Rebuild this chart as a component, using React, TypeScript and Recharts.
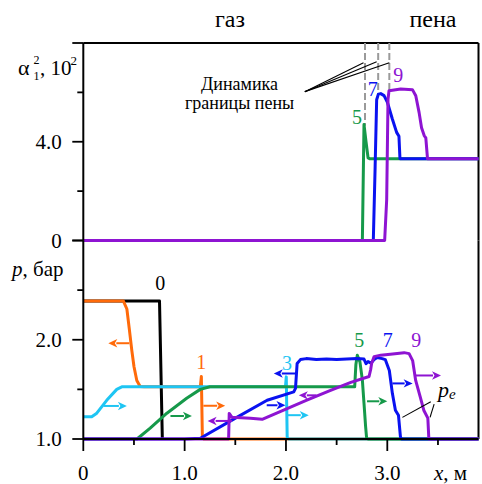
import { LineChart, Line, XAxis, YAxis, ReferenceLine, ReferenceDot } from 'recharts';

const SERIF = { fontFamily: "'Liberation Serif', serif" };

// axes
const X_DOMAIN: [number, number] = [0, 3.9];
const X_TICKS = [0, 0.5, 1, 1.5, 2, 2.5, 3, 3.5];
const X_MAJOR = [0, 1, 2, 3];
const X_LABELS: Record<number, string> = { 0: '0', 1: '1.0', 2: '2.0', 3: '3.0' };

const A_DOMAIN: [number, number] = [0, 8];
const A_TICKS = [0, 2, 4, 6, 8];
const A_MAJOR = [0, 4, 8];
const A_LABELS: Record<number, string> = { 0: '0', 4: '4.0' };

const P_DOMAIN: [number, number] = [1, 3];
const P_TICKS = [1, 1.5, 2, 2.5, 3];
const P_MAJOR = [1, 2, 3];
const P_LABELS: Record<number, string> = { 1: '1.0', 2: '2.0' };

// alpha_1^2 (x 10^2) vs x, м  — times 5, 7, 9
const alpha5 = [[0, 0], [2.754, 0], [2.77, 4.7], [2.79, 4.0], [2.81, 3.35], [2.83, 3.31], [3.9, 3.31]];
const alpha7 = [
  [0, 0], [2.862, 0], [2.88, 3.0], [2.895, 5.7], [2.912, 5.93], [2.935, 5.95], [2.968, 5.87],
  [3.0, 5.61], [3.049, 4.93], [3.092, 4.38], [3.115, 4.22], [3.125, 3.31], [3.9, 3.31],
];
const alpha9 = [
  [0, 0], [2.974, 0], [2.994, 1.66], [3.007, 5.72], [3.017, 6.07], [3.132, 6.14], [3.248, 6.11],
  [3.281, 5.86], [3.314, 5.18], [3.338, 4.57], [3.364, 4.25], [3.38, 4.16], [3.397, 3.31], [3.9, 3.31],
];

// p, бар vs x, м — times 0, 1, 3, 5, 7, 9
const p0 = [[0, 2.39], [0.752, 2.39], [0.78, 1.0]];
const p1 = [
  [0, 2.39], [0.396, 2.39], [0.43, 2.31], [0.455, 2.1], [0.479, 1.89], [0.5, 1.73], [0.528, 1.59],
  [0.561, 1.53], [0.6, 1.526], [1.155, 1.526], [1.165, 1.63], [1.175, 1.02], [1.19, 1.0], [3.9, 1.0],
];
const p3 = [
  [0, 1.224], [0.083, 1.224], [0.133, 1.26], [0.231, 1.39], [0.33, 1.5], [0.38, 1.526],
  [1.995, 1.526], [2.003, 1.626], [2.012, 1.02], [2.025, 1.0], [3.9, 1.0],
];
const p5 = [
  [0, 1.0], [0.53, 1.0], [0.66, 1.11], [0.825, 1.26], [1.02, 1.41], [1.154, 1.5], [1.25, 1.526],
  [2.678, 1.526], [2.69, 1.75], [2.704, 1.844], [2.73, 1.777], [2.754, 1.593], [2.77, 1.36],
  [2.786, 1.124], [2.796, 1.007], [2.81, 1.0], [3.9, 1.0],
];
const p7 = [
  [0, 1.0], [1.0, 1.0], [1.155, 1.007], [1.484, 1.2], [1.814, 1.39], [2.077, 1.475], [2.094, 1.51],
  [2.11, 1.76], [2.143, 1.8], [2.2, 1.81], [2.3, 1.8], [2.4, 1.806], [2.5, 1.8], [2.6, 1.806],
  [2.7, 1.81], [2.77, 1.805], [2.79, 1.76], [2.81, 1.78], [2.84, 1.765], [2.87, 1.8], [2.9, 1.82],
  [2.95, 1.81], [2.98, 1.8], [3.02, 1.69], [3.05, 1.46], [3.08, 1.29], [3.11, 1.24], [3.13, 1.02],
  [3.14, 1.0], [3.9, 1.0],
];
const p9 = [
  [0, 1.0], [1.434, 1.0], [1.44, 1.258], [1.468, 1.218], [1.649, 1.208], [1.765, 1.198], [2.2, 1.39],
  [2.44, 1.49], [2.64, 1.57], [2.82, 1.63], [2.836, 1.7], [2.845, 1.76], [2.87, 1.83], [2.935, 1.845],
  [3.03, 1.855], [3.166, 1.87], [3.215, 1.86], [3.25, 1.79], [3.28, 1.59], [3.325, 1.425],
  [3.36, 1.29], [3.4, 1.21], [3.41, 1.0], [3.9, 1.0],
];

// arrows: [x from, x to, p]
const arrows1 = [[0.455, 0.247, 1.965], [1.185, 1.4, 1.335]];
const arrows3 = [[0.2, 0.43, 1.333], [2.02, 2.225, 1.24]];
const arrows5 = [[0.86, 1.072, 1.232], [2.8, 3.0, 1.38]];
const arrows7 = [[2.094, 1.88, 1.66], [1.81, 1.995, 1.34], [3.05, 3.25, 1.56]];
const arrows9 = [[1.468, 1.227, 1.182], [2.3, 2.127, 1.44], [3.28, 3.53, 1.64]];

// curve labels [x, y]
const labelsTop = { '5': [2.702, 4.71], '7': [2.856, 5.87], '9': [3.108, 6.42] };
const labelsBottom = {
  '0': [0.759, 2.5], '1': [1.164, 1.71], '3': [2.01, 1.693],
  '5': [2.724, 1.928], '7': [3.004, 1.928], '9': [3.286, 1.928],
};

// foam boundary marks (x, lower end) and pointer lines
const foamFront = [[2.78, 4.65], [2.91, 5.93], [3.02, 6.1]];
const pointerStart = [2.186, 6.03];
const pointerEnds = [[2.765, 7.2], [2.895, 7.24], [3.02, 7.2]];
const peLines = [[[3.149, 1.218], [3.429, 1.375]], [[3.422, 1.218], [3.462, 1.352]]];

const C = {
  '0': '#000000',
  '1': '#ff6a0a',
  '3': '#1ec5f3',
  '5': '#16994a',
  '7': '#0a12f0',
  '9': '#8e14d2',
};

const rows = (pts: number[][]) => pts.map(([x, y]) => ({ x, y }));

const topSeries = [
  { id: '5', pts: alpha5 },
  { id: '7', pts: alpha7 },
  { id: '9', pts: alpha9 },
];
const bottomSeries = [
  { id: '0', pts: p0, arrows: [] as number[][] },
  { id: '1', pts: p1, arrows: arrows1 },
  { id: '3', pts: p3, arrows: arrows3 },
  { id: '5', pts: p5, arrows: arrows5 },
  { id: '7', pts: p7, arrows: arrows7 },
  { id: '9', pts: p9, arrows: arrows9 },
];

function yTick(labels: Record<number, string>, majors: number[]) {
  return (props: any) => {
    const { x, y, payload } = props;
    const v = payload.value;
    const len = majors.includes(v) ? 11 : 6;
    return (
      <g>
        <line x1={x} y1={y} x2={x - len} y2={y} stroke="#000" strokeWidth={1.8} />
        {labels[v] !== undefined && (
          <text x={x - 21.5} y={y + 7} textAnchor="end" fontSize={21} style={SERIF} fill="#000">
            {labels[v]}
          </text>
        )}
      </g>
    );
  };
}

function xTick(withLabels: boolean, majorLen: number, minorLen: number) {
  return (props: any) => {
    const { x, y, payload } = props;
    const v = payload.value;
    const len = X_MAJOR.includes(v) ? majorLen : minorLen;
    return (
      <g>
        <line x1={x} y1={y} x2={x} y2={y + len} stroke="#000" strokeWidth={1.8} />
        {withLabels && X_LABELS[v] !== undefined && (
          <text x={x} y={y + 41} textAnchor="middle" fontSize={21} style={SERIF} fill="#000">
            {X_LABELS[v]}
          </text>
        )}
      </g>
    );
  };
}

function arrowShape(color: string) {
  return (props: any) => {
    const { x1, y1, x2, y2 } = props;
    const dir = Math.sign(x2 - x1) || 1;
    const bx = x2 - dir * 8;
    return (
      <g>
        <line x1={x1} y1={y1} x2={bx} y2={y2} stroke={color} strokeWidth={2} />
        <path d={`M${x2},${y2} L${bx - dir},${y2 - 4.2} L${bx + dir * 1.5},${y2} L${bx - dir},${y2 + 4.2} Z`} fill={color} />
      </g>
    );
  };
}

function textShape(label: string, color: string, size: number) {
  return (props: any) => (
    <text x={props.cx} y={props.cy} textAnchor="middle" fontSize={size} style={SERIF} fill={color}>
      {label}
    </text>
  );
}

const thinLine = (props: any) => (
  <line x1={props.x1} y1={props.y1} x2={props.x2} y2={props.y2} stroke="#000" strokeWidth={1.1} />
);

const dashedLine = (props: any) => (
  <line x1={props.x1} y1={props.y1} x2={props.x2} y2={props.y2} stroke="#9a9a9a" strokeWidth={2} strokeDasharray="7 3" />
);

function TopPanel() {
  return (
    <LineChart width={482} height={252} margin={{ top: 43, right: 3.5, bottom: 11.5, left: 0 }}>
      <XAxis
        type="number"
        dataKey="x"
        domain={X_DOMAIN}
        ticks={X_TICKS}
        height={0}
        tickSize={0}
        tickMargin={0}
        tickLine={false}
        tick={xTick(false, 11, 7)}
        axisLine={{ stroke: '#000', strokeWidth: 2 }}
        interval={0}
      />
      <YAxis
        type="number"
        domain={A_DOMAIN}
        ticks={A_TICKS}
        width={83.3}
        tickSize={0}
        tickMargin={0}
        tickLine={false}
        tick={yTick(A_LABELS, A_MAJOR)}
        axisLine={{ stroke: '#000', strokeWidth: 2 }}
        interval={0}
      />
      <ReferenceLine y={8} stroke="#000" strokeWidth={2} />
      <ReferenceLine x={3.9} stroke="#000" strokeWidth={2} />
      {foamFront.map(([fx, fy], i) => (
        <ReferenceLine key={`ff${i}`} segment={[{ x: fx, y: 8 }, { x: fx, y: fy }]} shape={dashedLine} />
      ))}
      {pointerEnds.map(([ex, ey], i) => (
        <ReferenceLine
          key={`pl${i}`}
          segment={[{ x: pointerStart[0], y: pointerStart[1] }, { x: ex, y: ey }]}
          shape={thinLine}
        />
      ))}
      {topSeries.map((s) => (
        <Line
          key={s.id}
          data={rows(s.pts)}
          dataKey="y"
          type="linear"
          stroke={C[s.id as keyof typeof C]}
          strokeWidth={3}
          dot={false}
          activeDot={false}
          strokeLinejoin="round"
          isAnimationActive={false}
        />
      ))}
      {Object.entries(labelsTop).map(([k, [lx, ly]]) => (
        <ReferenceDot key={`lt${k}`} x={lx} y={ly} r={0} shape={textShape(k, C[k as keyof typeof C], 20)} />
      ))}
      <ReferenceDot
        x={1.542}
        y={6.11}
        r={0}
        shape={(p: any) => (
          <text x={p.cx} y={p.cy} textAnchor="middle" fontSize={18} style={SERIF} fill="#000">
            <tspan x={p.cx}>Динамика</tspan>
            <tspan x={p.cx} dy={19.5}>границы пены</tspan>
          </text>
        )}
      />
    </LineChart>
  );
}

function BottomPanel() {
  return (
    <LineChart width={482} height={260} margin={{ top: 10.5, right: 3.5, bottom: 6, left: 0 }}>
      <XAxis
        type="number"
        dataKey="x"
        domain={X_DOMAIN}
        ticks={X_TICKS}
        height={45}
        tickSize={0}
        tickMargin={0}
        tickLine={false}
        tick={xTick(true, 12, 6)}
        axisLine={{ stroke: '#000', strokeWidth: 2 }}
        interval={0}
      />
      <YAxis
        type="number"
        domain={P_DOMAIN}
        ticks={P_TICKS}
        width={83.3}
        tickSize={0}
        tickMargin={0}
        tickLine={false}
        tick={yTick(P_LABELS, P_MAJOR)}
        axisLine={{ stroke: '#000', strokeWidth: 2 }}
        interval={0}
      />
      <ReferenceLine x={3.9} stroke="#000" strokeWidth={2} />
      {bottomSeries.map((s) => (
        <Line
          key={s.id}
          data={rows(s.pts)}
          dataKey="y"
          type="linear"
          stroke={C[s.id as keyof typeof C]}
          strokeWidth={3}
          dot={false}
          activeDot={false}
          strokeLinejoin="round"
          isAnimationActive={false}
        />
      ))}
      {bottomSeries.flatMap((s) =>
        s.arrows.map(([a, b, y], i) => (
          <ReferenceLine
            key={`ar${s.id}-${i}`}
            segment={[{ x: a, y }, { x: b, y }]}
            shape={arrowShape(C[s.id as keyof typeof C])}
          />
        )),
      )}
      {peLines.map(([[ax, ay], [bx, by]], i) => (
        <ReferenceLine key={`pe${i}`} segment={[{ x: ax, y: ay }, { x: bx, y: by }]} shape={thinLine} />
      ))}
      <ReferenceDot
        x={3.5}
        y={1.425}
        r={0}
        shape={(p: any) => (
          <text x={p.cx} y={p.cy} fontSize={22} style={SERIF} fontStyle="italic" fill="#000">
            p<tspan fontSize={15} dy={2}>e</tspan>
          </text>
        )}
      />
      {Object.entries(labelsBottom).map(([k, [lx, ly]]) => (
        <ReferenceDot key={`lb${k}`} x={lx} y={ly} r={0} shape={textShape(k, C[k as keyof typeof C], 20)} />
      ))}
    </LineChart>
  );
}

export default function App() {
  return (
    <div style={{ position: 'absolute', left: 0, top: 0, width: 482, height: 484, background: '#fff', overflow: 'hidden', ...SERIF }}>
      <div style={{ position: 'absolute', left: 0, top: 0 }}>
        <TopPanel />
      </div>
      <div style={{ position: 'absolute', left: 0, top: 230 }}>
        <BottomPanel />
      </div>
      <svg width={482} height={484} style={{ position: 'absolute', left: 0, top: 0, pointerEvents: 'none' }}>
        <g fill="#000">
          <text x={230} y={27} fontSize={24} textAnchor="middle" style={SERIF}>газ</text>
          <text x={433} y={27} fontSize={24} textAnchor="middle" style={SERIF}>пена</text>
          <text x={18} y={75} fontSize={22} style={SERIF}>α</text>
          <text x={33.5} y={64} fontSize={12} style={SERIF}>2</text>
          <text x={33.5} y={80} fontSize={12} style={SERIF}>1</text>
          <text x={40} y={75} fontSize={21} style={SERIF}>, 10</text>
          <text x={70.5} y={65} fontSize={13} style={SERIF}>2</text>
          <text x={12} y={276} fontSize={21} style={SERIF}>
            <tspan fontStyle="italic">p</tspan>, бар
          </text>
          <text x={434} y={480} fontSize={21} style={SERIF}>
            <tspan fontStyle="italic">x</tspan>, м
          </text>
        </g>
      </svg>
    </div>
  );
}
